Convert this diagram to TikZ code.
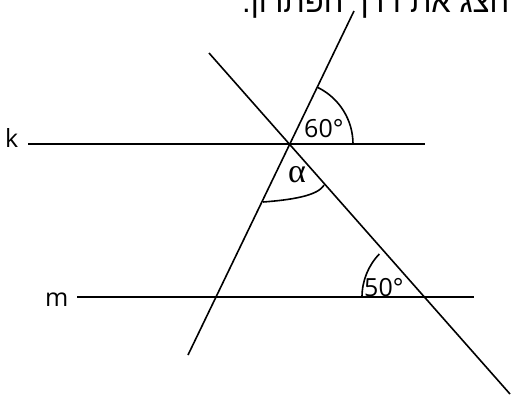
\documentclass[tikz,border=0pt]{standalone}
\usepackage{fontspec}
\setmainfont{Open Sans}
\newfontfamily\hebfont[Script=Hebrew]{Liberation Sans}
\newfontfamily\grkfont{Liberation Serif}
\TeXXeTstate=1
\begin{document}
\begin{tikzpicture}[x=1pt,y=-1pt,
  ln/.style={line width=1.6pt,line cap=butt},
  lbl/.style={inner sep=0pt,font=\fontsize{25}{28}\selectfont},
  heb/.style={inner sep=0pt,font=\hebfont\fontsize{31}{33}\selectfont}]
\useasboundingbox (0,0) rectangle (511,397);
% points
\coordinate (kL) at (28,144);
\coordinate (kR) at (425,144);
\coordinate (mL) at (77,297);
\coordinate (mR) at (474,297);
\coordinate (aT) at (354,11);
\coordinate (aB) at (188,355);
\coordinate (bT) at (209,53);
\coordinate (bB) at (510,394);
\coordinate (P) at (290,144);
\coordinate (Q) at (424,297);
% lines
\draw[ln] (kL) -- (kR);
\draw[ln] (mL) -- (mR);
\draw[ln] (aB) -- (aT);
\draw[ln] (bT) -- (bB);
% angle arcs
\draw[ln] (353,144) arc[start angle=0,end angle=-64,radius=63];
\draw[ln] (362,297) arc[start angle=180,end angle=224,radius=62];
\draw[ln] (263,202) .. controls (290,200) and (318,196) .. (324,185);
% labels
\node[lbl,anchor=base west] (k) at (5,147) {k};
\node[lbl,anchor=base west] (m) at (45,306) {m};
\node[lbl,anchor=base west] (a60) at (304,137) {60°};
\node[lbl,anchor=base west] (a50) at (364,296) {50°};
\node[inner sep=0pt,anchor=base] (alpha) at (297,182) {\grkfont\fontsize{34}{36}\selectfont α};
\node[heb,anchor=base west] (txt) at (242,12) {\beginR הצג את דרך הפתרון.\endR};
\end{tikzpicture}
\end{document}
